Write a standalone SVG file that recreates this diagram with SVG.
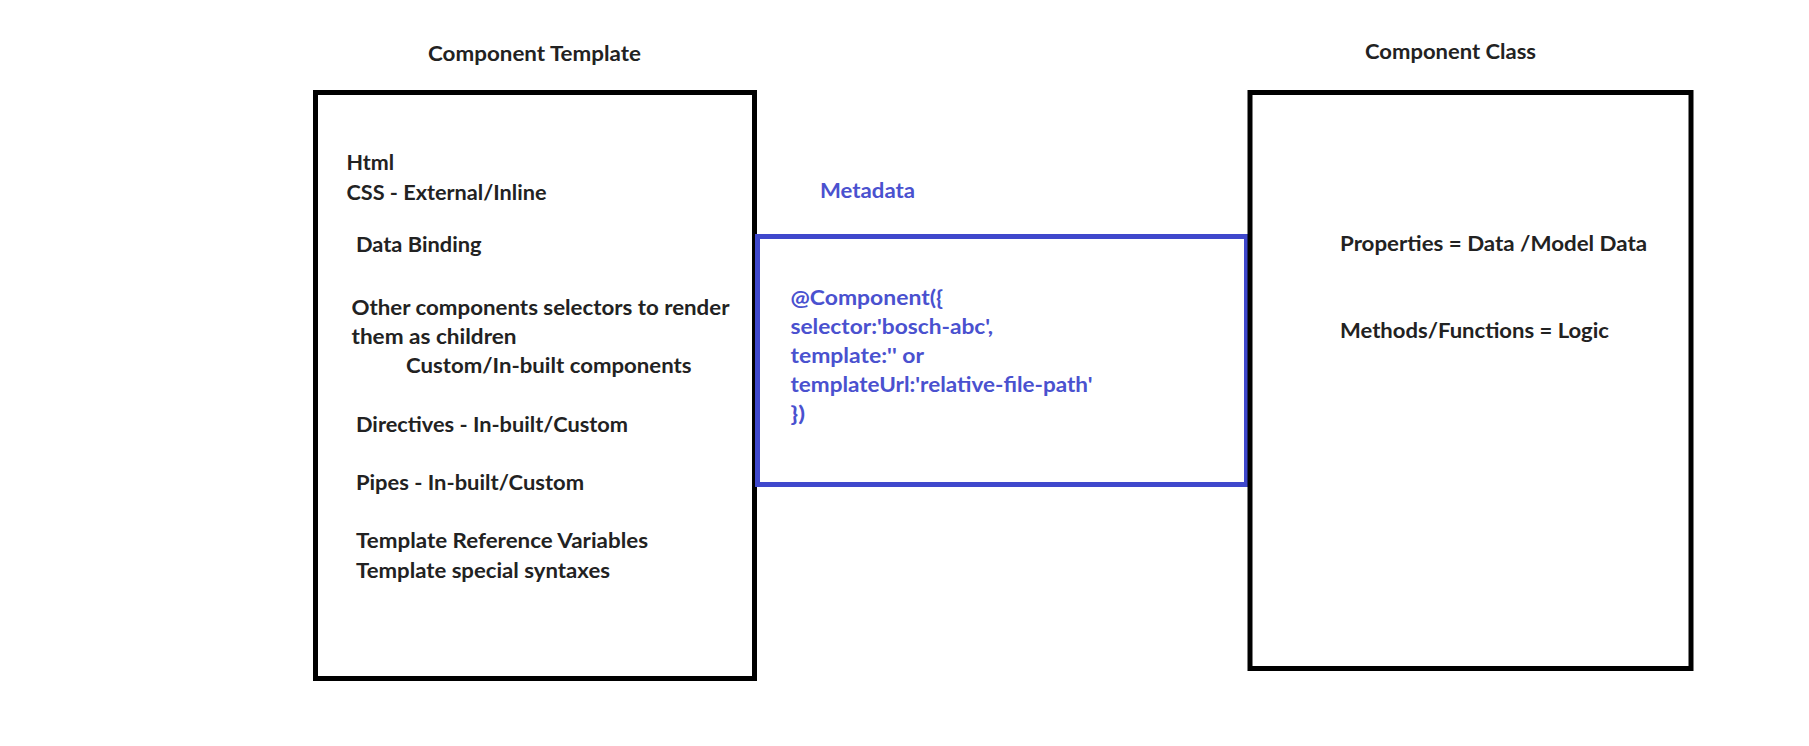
<svg xmlns="http://www.w3.org/2000/svg" width="1809" height="746" viewBox="0 0 1809 746">
<style>
.t{font-family:Lato,"Open Sans","Liberation Sans",sans-serif;font-weight:bold;font-size:21px;fill:#222}
.b{fill:#4a51cf}
.box{fill:none;stroke:#000;stroke-width:5}
.meta{fill:none;stroke:#3f48cc;stroke-width:5}
</style>
<rect width="1809" height="746" fill="#fff"/>
<g id="template">
<text class="t" x="428" y="61" textLength="213" lengthAdjust="spacingAndGlyphs">Component Template</text>
<rect class="box" x="315.5" y="92.5" width="439" height="586"/>
<text class="t" x="346.5" y="170" textLength="47.5" lengthAdjust="spacingAndGlyphs">Html</text>
<text class="t" x="346.5" y="199.5" textLength="200" lengthAdjust="spacingAndGlyphs">CSS - External/Inline</text>
<text class="t" x="356" y="252" textLength="125.5" lengthAdjust="spacingAndGlyphs">Data Binding</text>
<text class="t" x="351.5" y="315" textLength="378" lengthAdjust="spacingAndGlyphs">Other components selectors to render</text>
<text class="t" x="351.5" y="344" textLength="165" lengthAdjust="spacingAndGlyphs">them as children</text>
<text class="t" x="406" y="372.5" textLength="285.5" lengthAdjust="spacingAndGlyphs">Custom/In-built components</text>
<text class="t" x="356" y="431.5" textLength="272" lengthAdjust="spacingAndGlyphs">Directives - In-built/Custom</text>
<text class="t" x="356" y="490" textLength="228" lengthAdjust="spacingAndGlyphs">Pipes - In-built/Custom</text>
<text class="t" x="356" y="548" textLength="292" lengthAdjust="spacingAndGlyphs">Template Reference Variables</text>
<text class="t" x="356" y="577.5" textLength="254" lengthAdjust="spacingAndGlyphs">Template special syntaxes</text>
</g>
<g id="metadata">
<text class="t b" x="820" y="198" textLength="95" lengthAdjust="spacingAndGlyphs">Metadata</text>
<rect class="meta" x="757.5" y="236.5" width="489" height="248"/>
<text class="t b" x="790.5" y="305" textLength="152.5" lengthAdjust="spacingAndGlyphs">@Component({</text>
<text class="t b" x="790.5" y="334" textLength="202.5" lengthAdjust="spacingAndGlyphs">selector:'bosch-abc',</text>
<text class="t b" x="790.5" y="363" textLength="133.5" lengthAdjust="spacingAndGlyphs">template:'' or</text>
<text class="t b" x="790.5" y="392" textLength="302" lengthAdjust="spacingAndGlyphs">templateUrl:'relative-file-path'</text>
<text class="t b" x="790.5" y="421" textLength="14.5" lengthAdjust="spacingAndGlyphs">})</text>
</g>
<g id="class">
<text class="t" x="1365" y="59" textLength="171" lengthAdjust="spacingAndGlyphs">Component Class</text>
<rect class="box" x="1250" y="92.5" width="441" height="576"/>
<text class="t" x="1340" y="250.5" textLength="307" lengthAdjust="spacingAndGlyphs">Properties = Data /Model Data</text>
<text class="t" x="1340" y="338" textLength="269" lengthAdjust="spacingAndGlyphs">Methods/Functions = Logic</text>
</g>
<g id="connectors"></g>
</svg>
